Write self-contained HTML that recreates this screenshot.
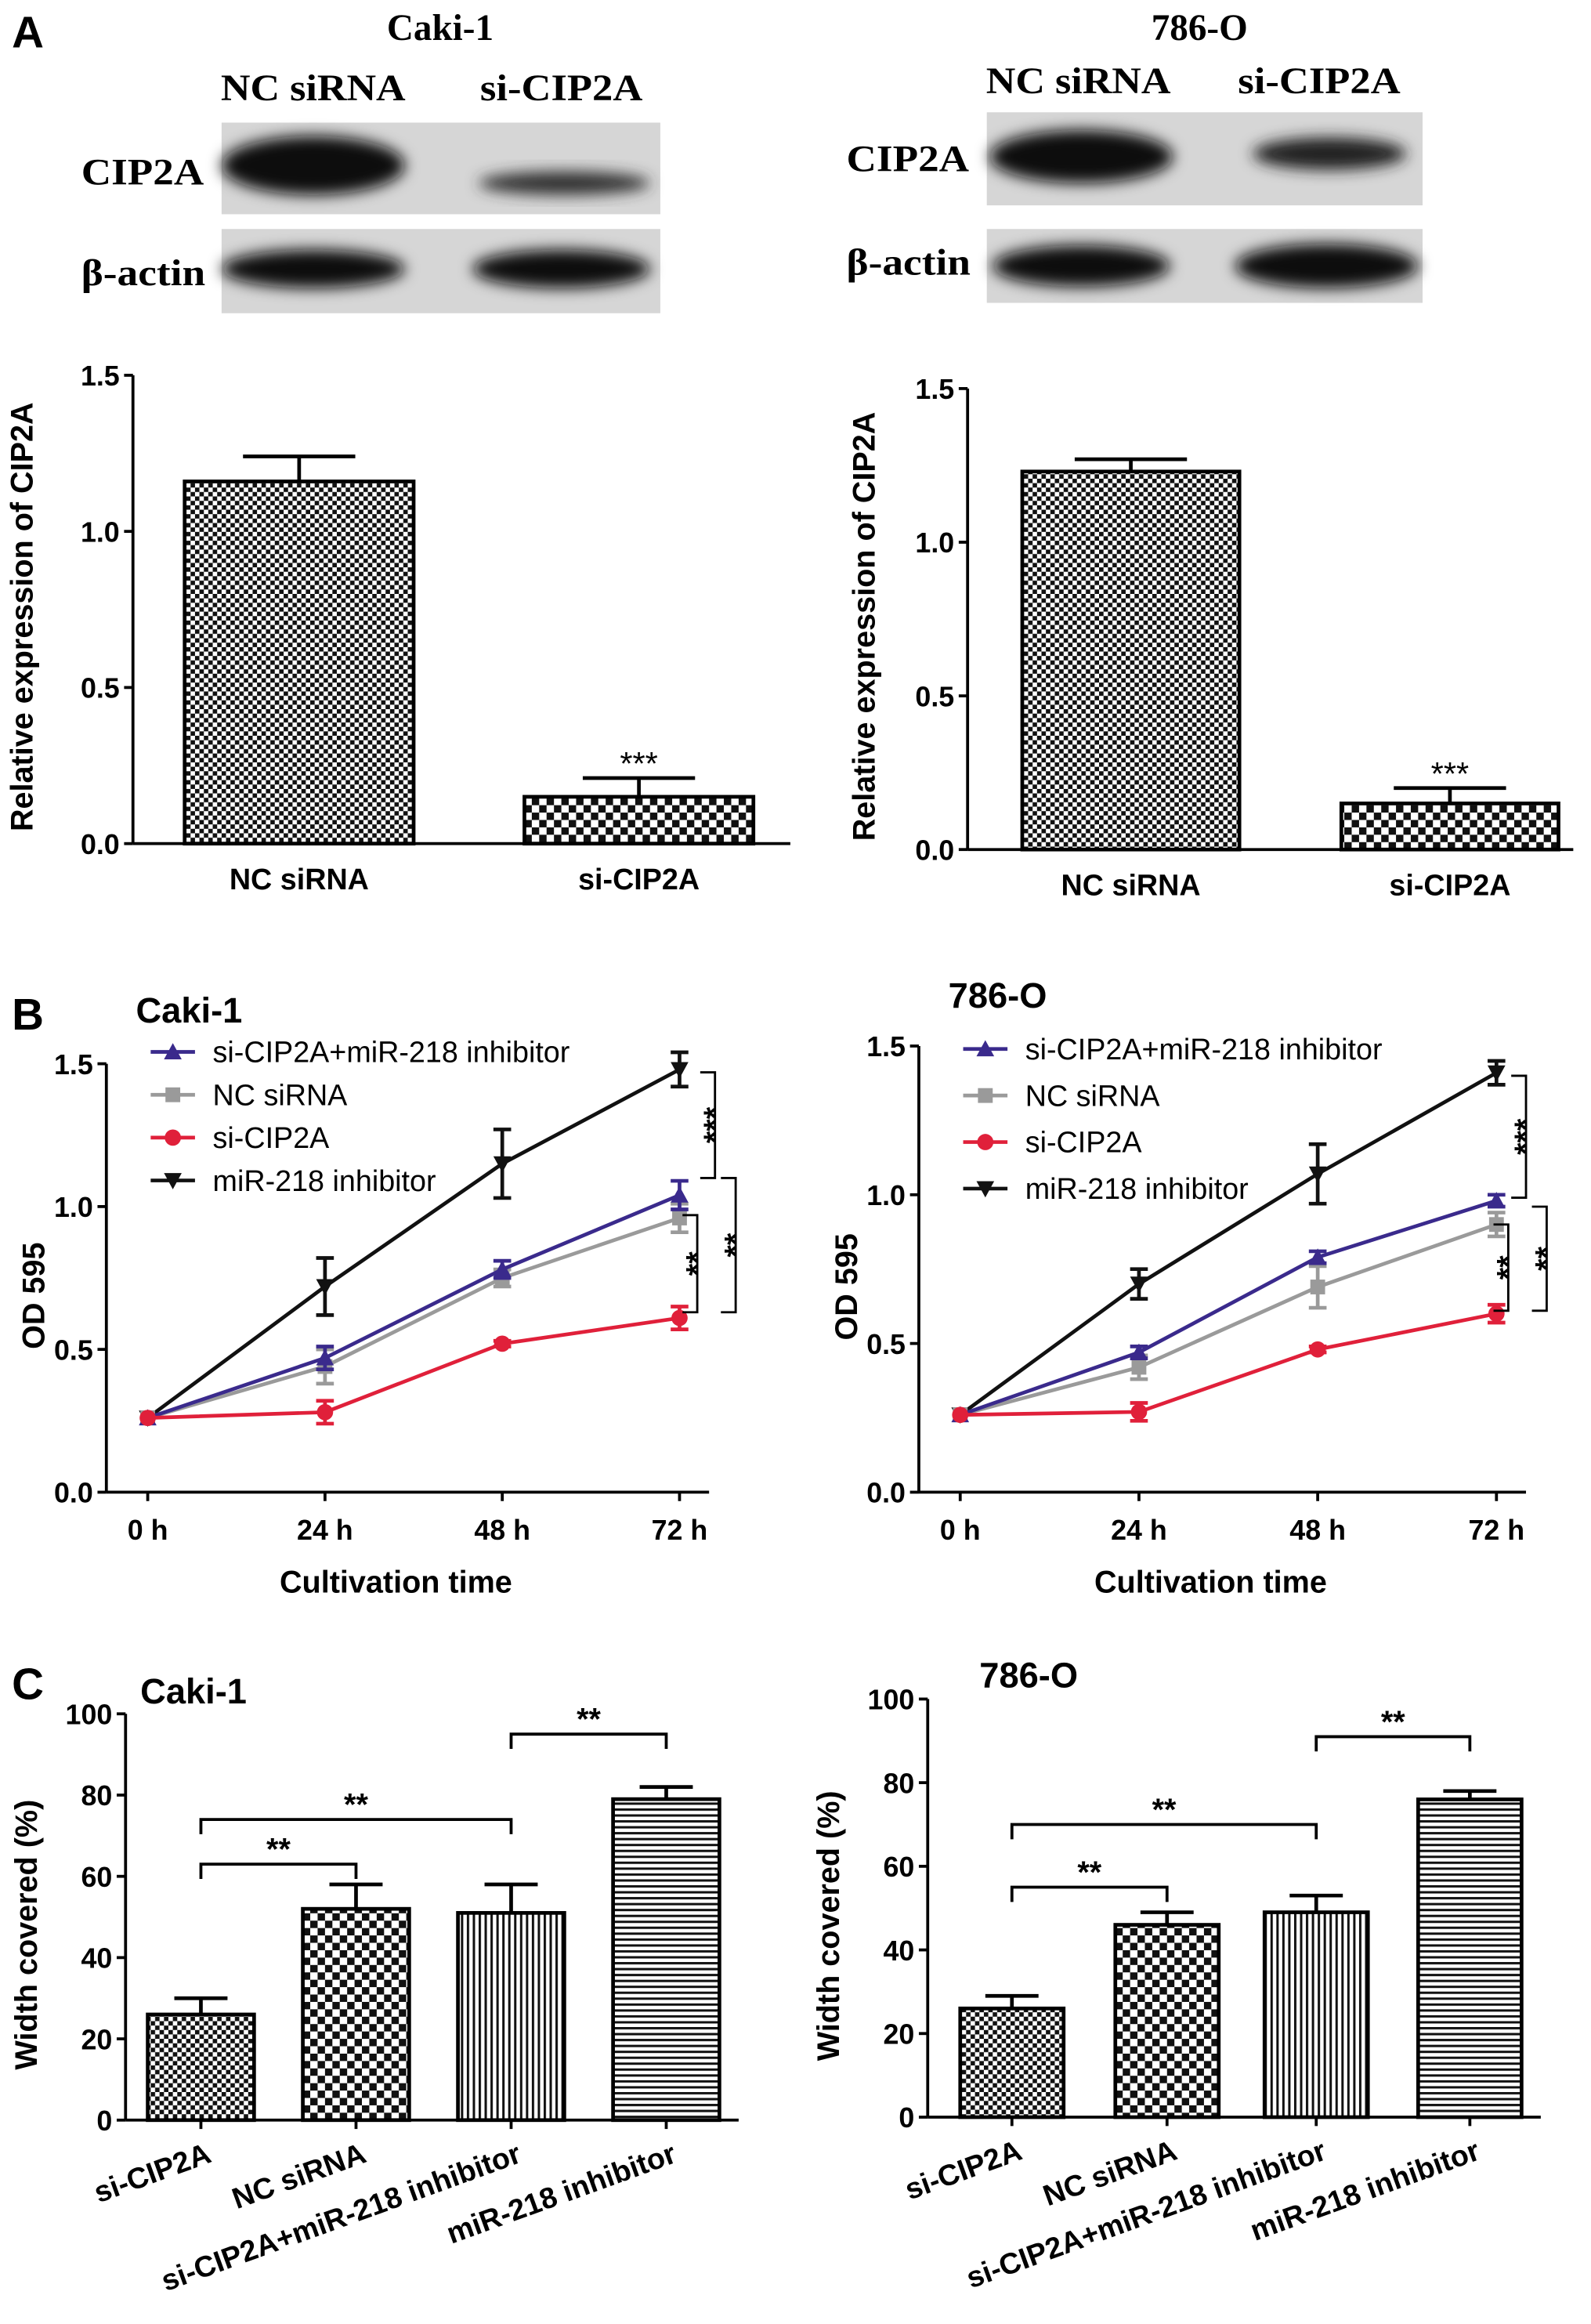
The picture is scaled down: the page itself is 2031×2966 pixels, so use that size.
<!DOCTYPE html>
<html><head><meta charset="utf-8">
<style>
html,body{margin:0;padding:0;background:#fff;}
svg{display:block;}
text{font-family:"Liberation Sans",Arial,sans-serif;}
.serif{font-family:"Liberation Serif","Times New Roman",serif;font-weight:bold;}
.b{font-weight:bold;}
</style></head>
<body>
<svg id="fig" width="2031" height="2966" viewBox="0 0 1077 1573" preserveAspectRatio="none" xmlns="http://www.w3.org/2000/svg">
<defs>
<pattern id="chkFine" width="6" height="6" patternUnits="userSpaceOnUse"><rect width="6" height="6" fill="#fff"/><rect width="3" height="3" fill="#111"/><rect x="3" y="3" width="3" height="3" fill="#111"/></pattern>
<pattern id="chkBig" width="10" height="10" patternUnits="userSpaceOnUse"><rect width="10" height="10" fill="#fff"/><rect width="5" height="5" fill="#111"/><rect x="5" y="5" width="5" height="5" fill="#111"/></pattern>
<pattern id="vlines" width="4" height="4" patternUnits="userSpaceOnUse"><rect width="4" height="4" fill="#fff"/><rect width="1.6" height="4" fill="#111"/></pattern>
<pattern id="hlines" width="4" height="4" patternUnits="userSpaceOnUse"><rect width="4" height="4" fill="#fff"/><rect width="4" height="1.6" fill="#111"/></pattern>
<filter id="blur" x="-20%" y="-50%" width="140%" height="200%"><feGaussianBlur stdDeviation="5"/></filter>
</defs>

<text x="8" y="32" font-size="30" class="b">A</text>
<text x="298" y="27" font-size="25" class="serif" text-anchor="middle">Caki-1</text>
<text x="212" y="68" font-size="25" class="serif" text-anchor="middle" textLength="125" lengthAdjust="spacingAndGlyphs">NC siRNA</text>
<text x="380" y="68" font-size="25" class="serif" text-anchor="middle" textLength="110" lengthAdjust="spacingAndGlyphs">si-CIP2A</text>
<text x="55" y="125" font-size="25" class="serif" textLength="83" lengthAdjust="spacingAndGlyphs">CIP2A</text>
<text x="55" y="193" font-size="25" class="serif" textLength="84" lengthAdjust="spacingAndGlyphs">β-actin</text>
<g>
<rect x="150" y="83" width="297" height="62" fill="#d6d6d6"/>
<ellipse cx="212" cy="112" rx="62" ry="20" fill="#111" filter="url(#blur)"/>
<ellipse cx="382" cy="124" rx="58" ry="8" fill="#333" filter="url(#blur)"/>
</g>
<g>
<rect x="150" y="155" width="297" height="57" fill="#d6d6d6"/>
<ellipse cx="212" cy="182" rx="62" ry="13" fill="#111" filter="url(#blur)"/>
<ellipse cx="380" cy="182" rx="60" ry="13" fill="#111" filter="url(#blur)"/>
</g>
<text x="812" y="27" font-size="25" class="serif" text-anchor="middle">786-O</text>
<text x="730" y="63" font-size="25" class="serif" text-anchor="middle" textLength="125" lengthAdjust="spacingAndGlyphs">NC siRNA</text>
<text x="893" y="63" font-size="25" class="serif" text-anchor="middle" textLength="110" lengthAdjust="spacingAndGlyphs">si-CIP2A</text>
<text x="573" y="116" font-size="25" class="serif" textLength="83" lengthAdjust="spacingAndGlyphs">CIP2A</text>
<text x="573" y="186" font-size="25" class="serif" textLength="84" lengthAdjust="spacingAndGlyphs">β-actin</text>
<g>
<rect x="668" y="76" width="295" height="63" fill="#d6d6d6"/>
<ellipse cx="732" cy="106" rx="62" ry="18" fill="#111" filter="url(#blur)"/>
<ellipse cx="900" cy="104" rx="52" ry="11" fill="#222" filter="url(#blur)"/>
</g>
<g>
<rect x="668" y="155" width="295" height="50" fill="#d6d6d6"/>
<ellipse cx="732" cy="180" rx="60" ry="14" fill="#111" filter="url(#blur)"/>
<ellipse cx="898" cy="180" rx="62" ry="15" fill="#111" filter="url(#blur)"/>
</g>

<text x="8" y="697" font-size="30" class="b">B</text>
<text x="8" y="1150" font-size="30" class="b">C</text>
<g id="charts"></g>
</svg>
<script>
// ---- Panel A data ----
const aCategories = ["NC siRNA", "si-CIP2A"];
const aCakiValues = [1.16, 0.15];
const aCakiErr = [0.08, 0.06];
const a786Values = [1.23, 0.15];
const a786Err = [0.04, 0.05];
const aTicks = [0, 0.5, 1.0, 1.5];
const aTickLabels = ["0.0", "0.5", "1.0", "1.5"];
// ---- Panel B data ----
const bTimes = ["0 h", "24 h", "48 h", "72 h"];
const bSeriesNames = ["si-CIP2A+miR-218 inhibitor", "NC siRNA", "si-CIP2A", "miR-218 inhibitor"];
const bCakiPurple = [0.26, 0.47, 0.78, 1.04];
const bCakiGray = [0.26, 0.44, 0.75, 0.96];
const bCakiRed = [0.26, 0.28, 0.52, 0.61];
const bCakiBlack = [0.26, 0.72, 1.15, 1.48];
const bCakiPurpleErr = [0, 0.04, 0.03, 0.05];
const bCakiGrayErr = [0, 0.06, 0.03, 0.05];
const bCakiRedErr = [0, 0.04, 0.01, 0.04];
const bCakiBlackErr = [0, 0.10, 0.12, 0.06];
const b786Purple = [0.26, 0.47, 0.79, 0.98];
const b786Gray = [0.26, 0.42, 0.69, 0.90];
const b786Red = [0.26, 0.27, 0.48, 0.60];
const b786Black = [0.26, 0.70, 1.07, 1.41];
const b786PurpleErr = [0, 0.02, 0.02, 0.02];
const b786GrayErr = [0, 0.04, 0.07, 0.04];
const b786RedErr = [0, 0.03, 0.01, 0.03];
const b786BlackErr = [0, 0.05, 0.10, 0.04];
const bTicks = [0, 0.5, 1.0, 1.5];
const bTickLabels = ["0.0", "0.5", "1.0", "1.5"];
// ---- Panel C data ----
const cCategories = ["si-CIP2A", "NC siRNA", "si-CIP2A+miR-218 inhibitor", "miR-218 inhibitor"];
const cCakiValues = [26, 52, 51, 79];
const cCakiErr = [4, 6, 7, 3];
const c786Values = [26, 46, 49, 76];
const c786Err = [3, 3, 4, 2];
const cTicks = [0, 20, 40, 60, 80, 100];
const cCakiBrackets = [[0, 1, 63], [0, 2, 74], [2, 3, 95]];
const c786Brackets = [[0, 1, 55], [0, 2, 70], [2, 3, 91]];

const NS = "http://www.w3.org/2000/svg";
const root = document.getElementById("charts");
function mk(tag, attrs, parent, txt) {
  const e = document.createElementNS(NS, tag);
  for (const k in attrs) e.setAttribute(k, attrs[k]);
  if (txt !== undefined) e.textContent = txt;
  (parent || root).appendChild(e);
  return e;
}
function group(name) {
  const g = mk("g", {});
  
  
  return g;
}
function yAxis(g, x, y0, yTop, vmax, ticks, labels, fs, name) {
  const sc = v => y0 - (y0 - yTop) * v / vmax;
  const ax = mk("line", {x1: x, y1: y0, x2: x, y2: yTop, stroke: "#000", "stroke-width": 2}, g);
  
  
  ticks.forEach((t, i) => {
    mk("line", {x1: x - 6, y1: sc(t), x2: x, y2: sc(t), stroke: "#000", "stroke-width": 2}, g);
    const tl = mk("text", {x: x - 9, y: sc(t) + 7, "font-size": 19, "text-anchor": "end", "font-weight": "bold"}, g, labels[i]);
    
    
  });
  return sc;
}
function rotText(g, x, y, txt, fs, name) {
  const t = mk("text", {x: 0, y: 0, "font-size": fs, "font-weight": "bold", "text-anchor": "middle", transform: `translate(${x},${y}) rotate(-90)`}, g, txt);
  
  
}
function errBar(g, x, y1, y2, w, color) {
  mk("line", {x1: x, y1: y1, x2: x, y2: y2, stroke: color, "stroke-width": 2.5}, g);
  mk("line", {x1: x - w, y1: y2, x2: x + w, y2: y2, stroke: color, "stroke-width": 2.5}, g);
}

function chartA(name, axX, y0, yTop, xEnd, barX, barW, vals, errs, fills, ytitleX, labelY) {
  const g = group(name);
  const sc = yAxis(g, axX, y0, yTop, 1.5, aTicks, aTickLabels, 19, name);
  const xa = mk("line", {x1: axX, y1: y0, x2: xEnd, y2: y0, stroke: "#000", "stroke-width": 2}, g);
  
  
  vals.forEach((v, i) => {
    const cx = barX[i] + barW / 2;
    errBar(g, cx, sc(v), sc(v + errs[i]), 38, "#000");
    const r = mk("rect", {x: barX[i], y: sc(v), width: barW, height: y0 - sc(v), fill: fills[i], stroke: "#000", "stroke-width": 2.5}, g);
    
    
    const l = mk("text", {x: cx, y: labelY, "font-size": 20, "font-weight": "bold", "text-anchor": "middle"}, g, aCategories[i]);
    
    
  });
  const s = mk("text", {x: barX[1] + barW / 2, y: sc(vals[1] + errs[1]) - 2, "font-size": 22, "text-anchor": "middle"}, g, "***");
  
  
  rotText(g, ytitleX, (y0 + yTop) / 2 + 5, "Relative expression of CIP2A", 21, name + '-y-axis-title');
}
chartA("chart-a-caki1", 90, 571, 254, 535, [125, 355], 155, aCakiValues, aCakiErr, ["url(#chkFine)", "url(#chkBig)"], 22, 602);
chartA("chart-a-786o", 655, 575, 263, 1065, [692, 908], 147, a786Values, a786Err, ["url(#chkFine)", "url(#chkBig)"], 592, 606);

const colors = ["#3a2a8c", "#9a9a9a", "#e0203a", "#111111"];
function marker(g, type, x, y, c) {
  if (type === 0) mk("polygon", {points: `${x},${y-6} ${x-6},${y+5} ${x+6},${y+5}`, fill: c}, g);
  else if (type === 1) mk("rect", {x: x - 5, y: y - 5, width: 10, height: 10, fill: c}, g);
  else if (type === 2) mk("circle", {cx: x, cy: y, r: 5.5, fill: c}, g);
  else mk("polygon", {points: `${x-6},${y-5} ${x+6},${y-5} ${x},${y+6}`, fill: c}, g);
}
function chartB(name, title, titleX, titleY, axX, y0, yTop, xs, series, errs, legX, legY, legStep, brackets) {
  const g = group(name);
  const sc = yAxis(g, axX, y0, yTop, 1.5, bTicks, bTickLabels, 19, name);
  const xEnd = xs[3] + 20;
  const xa = mk("line", {x1: axX, y1: y0, x2: xEnd, y2: y0, stroke: "#000", "stroke-width": 2}, g);
  
  
  bTimes.forEach((t, i) => {
    mk("line", {x1: xs[i], y1: y0, x2: xs[i], y2: y0 + 6, stroke: "#000", "stroke-width": 2}, g);
    const l = mk("text", {x: xs[i], y: y0 + 32, "font-size": 19, "font-weight": "bold", "text-anchor": "middle"}, g, t);
    
    
  });
  const xt = mk("text", {x: (axX + xEnd) / 2 - 8, y: y0 + 68, "font-size": 21, "font-weight": "bold", "text-anchor": "middle"}, g, "Cultivation time");
  
  
  rotText(g, axX - 42, (y0 + yTop) / 2 + 12, "OD 595", 21, name + '-y-axis-title');
  const tt = mk("text", {x: titleX, y: titleY, "font-size": 24, "font-weight": "bold"}, g, title);
  
  
  const order = [3, 1, 0, 2];
  order.forEach(s => {
    const sg = mk("g", {}, g);
    
    
    const vals = series[s];
    mk("polyline", {points: vals.map((v, i) => `${xs[i]},${sc(v)}`).join(" "), fill: "none", stroke: colors[s], "stroke-width": 2.5}, sg);
    vals.forEach((v, i) => {
      if (errs[s][i] > 0) { errBar(sg, xs[i], sc(v - errs[s][i]), sc(v + errs[s][i]), 6, colors[s]); mk("line", {x1: xs[i]-6, y1: sc(v - errs[s][i]), x2: xs[i]+6, y2: sc(v - errs[s][i]), stroke: colors[s], "stroke-width": 2.5}, sg); }
      marker(sg, s, xs[i], sc(v), colors[s]);
    });
  });
  bSeriesNames.forEach((n, s) => {
    const y = legY + s * legStep;
    const lg = mk("g", {}, g);
    
    
    mk("line", {x1: legX, y1: y, x2: legX + 30, y2: y, stroke: colors[s], "stroke-width": 2.5}, lg);
    marker(lg, s, legX + 15, y, colors[s]);
    mk("text", {x: legX + 42, y: y + 7, "font-size": 20}, lg, n);
  });
  brackets.forEach(b => {
    const [x, v1, v2, txt] = b;
    const bg = mk("g", {}, g);
    
    
    mk("polyline", {points: `${x-10},${sc(v1)} ${x},${sc(v1)} ${x},${sc(v2)} ${x-10},${sc(v2)}`, fill: "none", stroke: "#000", "stroke-width": 1.5}, bg);
    mk("text", {x: 0, y: 0, "font-size": 21, "font-weight": "bold", "text-anchor": "middle", transform: `translate(${x + 7},${(sc(v1) + sc(v2)) / 2}) rotate(-90)`}, bg, txt);
  });
}
chartB("chart-b-caki1", "Caki-1", 92, 692, 72, 1010, 720, [100, 220, 340, 460],
  [bCakiPurple, bCakiGray, bCakiRed, bCakiBlack], [bCakiPurpleErr, bCakiGrayErr, bCakiRedErr, bCakiBlackErr],
  102, 712, 29, [[484, 1.47, 1.10, "***"], [472, 0.97, 0.63, "**"], [498, 1.10, 0.63, "**"]]);
chartB("chart-b-786o", "786-O", 642, 682, 622, 1010, 708, [650, 771, 892, 1013],
  [b786Purple, b786Gray, b786Red, b786Black], [b786PurpleErr, b786GrayErr, b786RedErr, b786BlackErr],
  652, 710, 31.5, [[1033, 1.40, 0.99, "***"], [1021, 0.90, 0.61, "**"], [1047, 0.96, 0.61, "**"]]);

function chartC(name, title, titleX, titleY, axX, y0, yTop, barX, barW, vals, errs, brackets, xEnd) {
  const g = group(name);
  const labels = cTicks.map(String);
  const sc = yAxis(g, axX, y0, yTop, 100, cTicks, labels, 19, name);
  const xa = mk("line", {x1: axX, y1: y0, x2: xEnd, y2: y0, stroke: "#000", "stroke-width": 2}, g);
  
  
  rotText(g, axX - 60, (y0 + yTop) / 2 + 12, "Width covered (%)", 21, name + '-y-axis-title');
  const tt = mk("text", {x: titleX, y: titleY, "font-size": 24, "font-weight": "bold"}, g, title);
  
  
  const fills = ["url(#chkFine)", "url(#chkBig)", "url(#vlines)", "url(#hlines)"];
  vals.forEach((v, i) => {
    const cx = barX[i] + barW / 2;
    errBar(g, cx, sc(v), sc(v + errs[i]), 18, "#000");
    const r = mk("rect", {x: barX[i], y: sc(v), width: barW, height: y0 - sc(v), fill: fills[i], stroke: "#000", "stroke-width": 2.5}, g);
    
    
    mk("line", {x1: cx, y1: y0, x2: cx, y2: y0 + 6, stroke: "#000", "stroke-width": 2}, g);
    const l = mk("text", {x: 0, y: 0, "font-size": 20, "font-weight": "bold", "text-anchor": "end", transform: `translate(${cx + 8},${y0 + 28}) rotate(-20)`}, g, cCategories[i]);
    
    
  });
  brackets.forEach(b => {
    const [i1, i2, v] = b;
    const x1 = barX[i1] + barW / 2, x2 = barX[i2] + barW / 2, y = sc(v);
    const bg = mk("g", {}, g);
    
    
    mk("polyline", {points: `${x1},${y+10} ${x1},${y} ${x2},${y} ${x2},${y+10}`, fill: "none", stroke: "#000", "stroke-width": 2}, bg);
    mk("text", {x: (x1 + x2) / 2, y: y - 3, "font-size": 21, "font-weight": "bold", "text-anchor": "middle"}, bg, "**");
  });
}
chartC("chart-c-caki1", "Caki-1", 95, 1153, 85, 1435, 1160, [100, 205, 310, 415], 72, cCakiValues, cCakiErr, cCakiBrackets, 500);
chartC("chart-c-786o", "786-O", 663, 1142, 628, 1433, 1150, [650, 755, 856, 960], 70, c786Values, c786Err, c786Brackets, 1043);
</script>
</body></html>
